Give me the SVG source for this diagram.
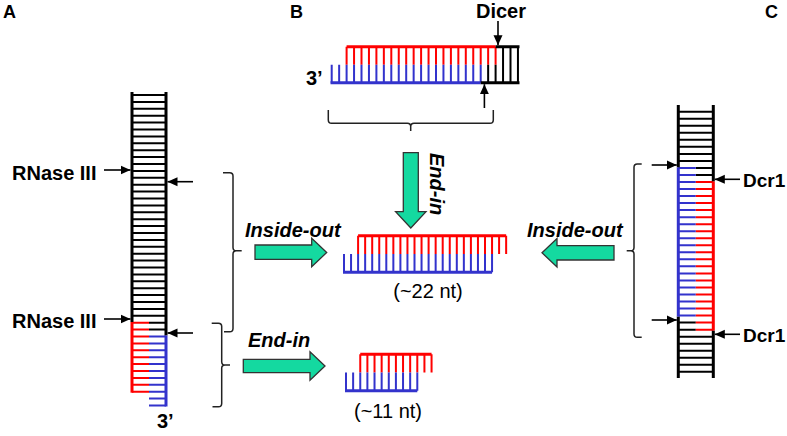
<svg xmlns="http://www.w3.org/2000/svg" width="787" height="436" viewBox="0 0 787 436">
<style>
.t{font-family:"Liberation Sans",Arial,sans-serif;fill:#000}
.b{font-weight:bold}
.bi{font-weight:bold;font-style:italic}
.rail{fill:none;stroke-width:3;stroke-linecap:butt}
.rung{fill:none;stroke-width:2;stroke-linecap:butt}
.k{stroke:#000}
.r{stroke:#FF0000}
.u{stroke:#3333CC}
.arr{fill:none;stroke:#000;stroke-width:1.6;marker-end:url(#ah)}
.br{fill:none;stroke:#222;stroke-width:1.5}
.g{fill:#14D9A0;stroke:#333;stroke-width:1.3}
</style>
<defs>
<marker id="ah" markerWidth="10" markerHeight="10" refX="10" refY="5" orient="auto" markerUnits="userSpaceOnUse"><path d="M0,0.5 L10,5 L0,9.5 Z" fill="#000"/></marker>
</defs>
<rect width="787" height="436" fill="#fff"/>

<g id="labels">
<text class="t b" x="3" y="18" font-size="18">A</text>
<text class="t b" x="290" y="18" font-size="18">B</text>
<text class="t b" x="765" y="18" font-size="18">C</text>
</g>

<g id="panelA-precursor">
<path class="rung k" d="M132 95h34M132 101.9h34M132 108.8h34M132 115.7h34M132 122.6h34M132 129.5h34M132 136.4h34M132 143.3h34M132 150.2h34M132 157.1h34M132 164h34M132 170.9h34M132 177.8h34M132 184.7h34M132 191.6h34M132 198.5h34M132 205.4h34M132 212.3h34M132 219.2h34M132 226.1h34M132 233h34M132 239.9h34M132 246.8h34M132 253.7h34M132 260.6h34M132 267.5h34M132 274.4h34M132 281.3h34M132 288.2h34M132 295.1h34M132 302h34M132 308.9h34M132 315.8h34M149 322.7h17M149 329.6h17"/>
<path class="rung r" d="M132 322.7h17M132 329.6h17M132 336.5h17M132 343.4h17M132 350.3h17M132 357.2h17M132 364.1h17M132 371h17M132 377.9h17M132 384.8h17M132 391.7h17"/>
<path class="rung u" d="M149 336.5h17M149 343.4h17M149 350.3h17M149 357.2h17M149 364.1h17M149 371h17M149 377.9h17M149 384.8h17M149 391.7h17M149 398.6h17M149 405.5h17"/>
<path class="rail k" d="M132 92V322M166 92V335.5"/>
<path class="rail r" d="M132 322V392.7"/>
<path class="rail u" d="M166 335.5V406.5"/>
<text class="t b" x="12" y="180" font-size="20">RNase III</text>
<text class="t b" x="12" y="328" font-size="20">RNase III</text>
<text class="t b" x="157" y="428" font-size="20">3’</text>
</g>

<g id="panelB-dsRNA">
<path class="rung r" d="M346.6 46.7V64.7M354.05 46.7V64.7M361.5 46.7V64.7M368.95 46.7V64.7M376.4 46.7V64.7M383.85 46.7V64.7M391.3 46.7V64.7M398.75 46.7V64.7M406.2 46.7V64.7M413.65 46.7V64.7M421.1 46.7V64.7M428.55 46.7V64.7M436 46.7V64.7M443.45 46.7V64.7M450.9 46.7V64.7M458.35 46.7V64.7M465.8 46.7V64.7M473.25 46.7V64.7M480.7 46.7V64.7M488.15 46.7V64.7M495.6 46.7V64.7"/>
<path class="rung u" d="M331.7 82.7V64.7M339.15 82.7V64.7M346.6 82.7V64.7M354.05 82.7V64.7M361.5 82.7V64.7M368.95 82.7V64.7M376.4 82.7V64.7M383.85 82.7V64.7M391.3 82.7V64.7M398.75 82.7V64.7M406.2 82.7V64.7M413.65 82.7V64.7M421.1 82.7V64.7M428.55 82.7V64.7M436 82.7V64.7M443.45 82.7V64.7M450.9 82.7V64.7M458.35 82.7V64.7M465.8 82.7V64.7M473.25 82.7V64.7M480.7 82.7V64.7"/>
<path class="rung k" d="M488.15 64.7V82.7M495.6 64.7V82.7M503.05 46.7V82.7M510.5 46.7V82.7M517.95 46.7V82.7"/>
<path class="rail r" d="M346.6 46.7H495.6"/>
<path class="rail u" d="M330.5 82.7H480.7"/>
<path class="rail k" d="M495.6 46.7H519.5M480.7 82.7H519.5"/>
<text class="t b" x="476" y="17.5" font-size="20">Dicer</text>
<text class="t b" x="306" y="85" font-size="20">3’</text>
</g>

<g id="siRNA-22nt">
<path class="rung r" d="M358.1 235.7V254M365.15 235.7V254M372.2 235.7V254M379.25 235.7V254M386.3 235.7V254M393.35 235.7V254M400.4 235.7V254M407.45 235.7V254M414.5 235.7V254M421.55 235.7V254M428.6 235.7V254M435.65 235.7V254M442.7 235.7V254M449.75 235.7V254M456.8 235.7V254M463.85 235.7V254M470.9 235.7V254M477.95 235.7V254M485 235.7V254M492.05 235.7V254M499.1 235.7V254M506.15 235.7V254"/>
<path class="rung u" d="M344 272.3V254M351.05 272.3V254M358.1 272.3V254M365.15 272.3V254M372.2 272.3V254M379.25 272.3V254M386.3 272.3V254M393.35 272.3V254M400.4 272.3V254M407.45 272.3V254M414.5 272.3V254M421.55 272.3V254M428.6 272.3V254M435.65 272.3V254M442.7 272.3V254M449.75 272.3V254M456.8 272.3V254M463.85 272.3V254M470.9 272.3V254M477.95 272.3V254M485 272.3V254M492.05 272.3V254"/>
<path class="rail r" d="M358.1 235.7H506.15"/>
<path class="rail u" d="M343 272.3H492.05"/>
<text class="t" x="428" y="298" font-size="20" text-anchor="middle">(~22 nt)</text>
</g>

<g id="siRNA-11nt">
<path class="rung r" d="M360.26 354.3V372.5M367.39 354.3V372.5M374.52 354.3V372.5M381.65 354.3V372.5M388.78 354.3V372.5M395.91 354.3V372.5M403.04 354.3V372.5M410.17 354.3V372.5M417.3 354.3V372.5M424.43 354.3V372.5M431.56 354.3V372.5"/>
<path class="rung u" d="M346 390.7V372.5M353.13 390.7V372.5M360.26 390.7V372.5M367.39 390.7V372.5M374.52 390.7V372.5M381.65 390.7V372.5M388.78 390.7V372.5M395.91 390.7V372.5M403.04 390.7V372.5M410.17 390.7V372.5M417.3 390.7V372.5"/>
<path class="rail r" d="M360.26 354.3H431.56"/>
<path class="rail u" d="M345 390.7H417.3"/>
<text class="t" x="388" y="418" font-size="20" text-anchor="middle">(~11 nt)</text>
</g>

<g id="panelC-dsRNA">
<path class="rung k" d="M678.3 111.7h35M678.3 118.73h35M678.3 125.76h35M678.3 132.79h35M678.3 139.82h35M678.3 146.85h35M678.3 153.88h35M678.3 160.91h35M678.3 336.66h35M678.3 343.69h35M678.3 350.72h35M678.3 357.75h35M678.3 364.78h35M678.3 371.81h35M695.8 167.94h17.5M695.8 174.97h17.5M678.3 322.6h17.5M678.3 329.63h17.5"/>
<path class="rung u" d="M678.3 167.94h17.5M678.3 174.97h17.5M678.3 182h17.5M678.3 189.03h17.5M678.3 196.06h17.5M678.3 203.09h17.5M678.3 210.12h17.5M678.3 217.15h17.5M678.3 224.18h17.5M678.3 231.21h17.5M678.3 238.24h17.5M678.3 245.27h17.5M678.3 252.3h17.5M678.3 259.33h17.5M678.3 266.36h17.5M678.3 273.39h17.5M678.3 280.42h17.5M678.3 287.45h17.5M678.3 294.48h17.5M678.3 301.51h17.5M678.3 308.54h17.5M678.3 315.57h17.5"/>
<path class="rung r" d="M695.8 182h17.5M695.8 189.03h17.5M695.8 196.06h17.5M695.8 203.09h17.5M695.8 210.12h17.5M695.8 217.15h17.5M695.8 224.18h17.5M695.8 231.21h17.5M695.8 238.24h17.5M695.8 245.27h17.5M695.8 252.3h17.5M695.8 259.33h17.5M695.8 266.36h17.5M695.8 273.39h17.5M695.8 280.42h17.5M695.8 287.45h17.5M695.8 294.48h17.5M695.8 301.51h17.5M695.8 308.54h17.5M695.8 315.57h17.5M695.8 322.6h17.5M695.8 329.63h17.5"/>
<path class="rail k" d="M678.3 105V167.5M678.3 316.5V378M713.3 105V181.5M713.3 330.5V378"/>
<path class="rail u" d="M678.3 167.5V316.5"/>
<path class="rail r" d="M713.3 181.5V330.5"/>
<text class="t b" x="743" y="186.5" font-size="19">Dcr1</text>
<text class="t b" x="743" y="341.5" font-size="19">Dcr1</text>
</g>

<g id="connectors">
<path class="arr" d="M104 170H130.5"/>
<path class="arr" d="M193 181.7H167.5"/>
<path class="arr" d="M104 319H130.5"/>
<path class="arr" d="M193 333H167.5"/>
<path class="arr" d="M498 21V45.2"/>
<path class="arr" d="M484.4 108V84.2"/>
<path class="arr" d="M651.7 165H676.8"/>
<path class="arr" d="M651.7 320H676.8"/>
<path class="arr" d="M740 179.3H714.8"/>
<path class="arr" d="M740 334.3H714.8"/>
<path class="br" d="M223 172.7H229.7Q233 172.7 233 176V247.4Q233 250.7 236.3 250.7H241.7M236.3 250.7Q233 250.7 233 254V328.4Q233 331.7 229.7 331.7H224"/>
<path class="br" d="M211.7 323.3H218.4Q221.7 323.3 221.7 326.6V361.7Q221.7 365 225 365H230M225 365Q221.7 365 221.7 368.3V403.4Q221.7 406.7 218.4 406.7H212.5"/>
<path class="br" d="M641.7 164H637.3Q634 164 634 167.3V247.4Q634 250.7 630.7 250.7H626.7M630.7 250.7Q634 250.7 634 254V334Q634 337.3 637.3 337.3H641.7"/>
<path class="br" d="M328.3 110V120Q328.3 123.3 331.6 123.3H407.4Q410.7 123.3 410.7 126.6V131M410.7 126.6Q410.7 123.3 414 123.3H490Q493.3 123.3 493.3 120V110"/>
<path class="g" d="M403.3 152.7H418.3V211.7H426L410.8 228L395.6 211.7H403.3Z"/>
<path class="g" d="M255 245H311.7V238.3L326.7 252.5L311.7 266.7V259.3H255Z"/>
<path class="g" d="M614 245.7H557V238.5L542 252.8L557 267V260H614Z"/>
<path class="g" d="M243.3 359.3H310V351.7L325 366L310 380.3V372.7H243.3Z"/>
<text class="t bi" x="245" y="237" font-size="20">Inside-out</text>
<text class="t bi" x="527" y="237" font-size="20">Inside-out</text>
<text class="t bi" x="248" y="347" font-size="20">End-in</text>
<text class="t bi" font-size="20" transform="translate(430 153) rotate(90)">End-in</text>
</g>
</svg>
